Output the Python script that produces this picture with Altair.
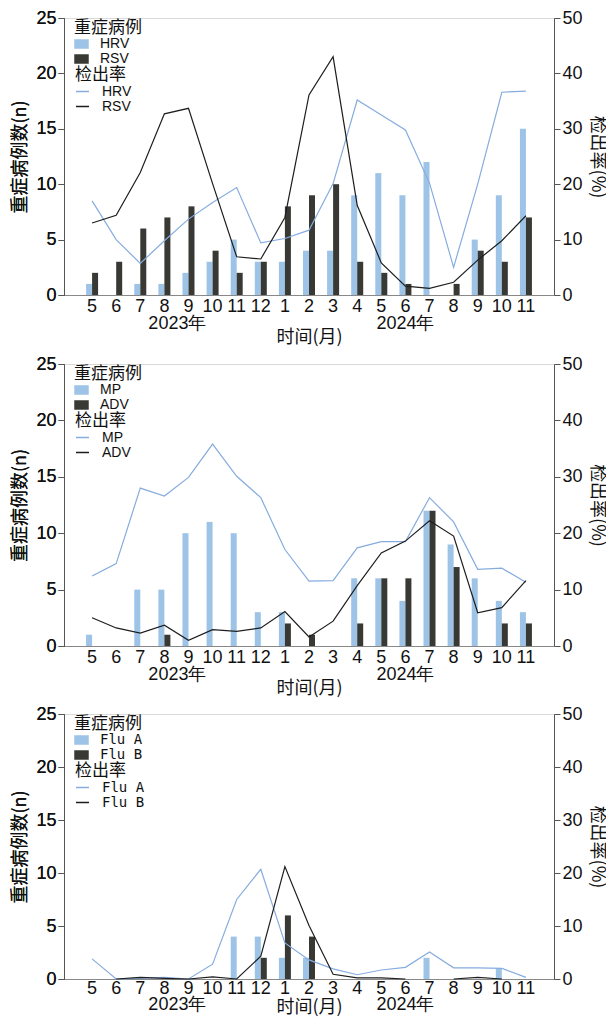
import altair as alt
import pandas as pd

months = ["2023-5", "2023-6", "2023-7", "2023-8", "2023-9", "2023-10", "2023-11", "2023-12",
          "2024-1", "2024-2", "2024-3", "2024-4", "2024-5", "2024-6", "2024-7", "2024-8",
          "2024-9", "2024-10", "2024-11"]

# Panel 1: HRV / RSV
hrv_cases = [1, 0, 1, 1, 2, 3, 5, 3, 3, 4, 4, 9, 11, 9, 12, 0, 5, 9, 15]
rsv_cases = [2, 3, 6, 7, 8, 4, 2, 3, 8, 9, 10, 3, 2, 1, 0, 1, 4, 3, 7]
hrv_rate = [17.0, 10.0, 5.7, 9.8, 13.7, 16.7, 19.4, 9.4, 10.2, 11.7, 20.1, 35.2, 32.5, 29.8, 20.2, 5.0, 20.0, 36.6, 36.8]
rsv_rate = [13.0, 14.4, 22.1, 32.7, 33.7, 20.1, 6.9, 6.5, 14.0, 36.1, 43.0, 16.2, 5.8, 1.6, 1.2, 2.3, 6.3, 9.8, 14.3]

# Panel 2: MP / ADV
mp_cases = [1, 0, 5, 5, 10, 11, 10, 3, 3, 0, 0, 6, 6, 4, 12, 9, 6, 4, 3]
adv_cases = [0, 0, 0, 1, 0, 0, 0, 0, 2, 1, 0, 2, 6, 6, 12, 7, 0, 2, 2]
mp_rate = [12.4, 14.6, 28.0, 26.6, 29.9, 35.8, 30.1, 26.3, 17.1, 11.5, 11.6, 17.4, 18.5, 18.5, 26.3, 22.0, 13.6, 13.8, 11.3]
adv_rate = [5.0, 3.2, 2.3, 3.7, 1.0, 2.9, 2.6, 3.2, 6.1, 1.6, 4.4, 10.7, 16.5, 18.6, 22.2, 19.5, 5.9, 6.8, 11.6]

# Panel 3: Flu A / Flu B
flua_cases = [0, 0, 0, 0, 0, 0, 4, 4, 2, 2, 0, 0, 0, 0, 2, 0, 0, 1, 0]
flub_cases = [0, 0, 0, 0, 0, 0, 0, 2, 6, 4, 0, 0, 0, 0, 0, 0, 0, 0, 0]
flua_rate = [3.8, 0.0, 0.1, 0.3, 0.0, 2.8, 15.0, 20.7, 6.8, 3.6, 1.9, 0.8, 1.7, 2.2, 5.1, 2.1, 2.1, 2.0, 0.3]
flub_rate = [None, 0.0, 0.3, 0.1, 0.0, 0.4, 0.0, 4.3, 21.2, 10.1, 0.9, 0.2, 0.2, 0.0, None, 0.0, 0.3, 0.0, None]

year_labels = ["2023年", "2024年"]
year_anchor = ["2023-8", "2024-6"]

BLUE_BAR = "#9DC3E6"
DARK_BAR = "#383834"
BLUE_LINE = "#86ACDE"
BLACK_LINE = "#1E1E1E"
NUM_FONT = "Liberation Sans"
CJK_FONT = "Noto Sans CJK SC"
W = 490
RECT = "M-1,-0.67H1V0.67H-1Z"


def panel(names, ca, cb, ra, rb, h, label_font, label_pad, title_pad, year_off):
    n = len(months)
    line_names = [s + " " for s in names]
    bars_a = pd.DataFrame({"month": months, "病例": [names[0]] * n, "cases": ca})
    bars_b = pd.DataFrame({"month": months, "病例": [names[1]] * n, "cases": cb})
    lines = pd.DataFrame({"month": months * 2, "检出": [line_names[0]] * n + [line_names[1]] * n,
                          "rate": ra + rb, "idx": list(range(n)) * 2})
    x = alt.X("month:N", sort=months,
              scale=alt.Scale(domain=months, paddingInner=0.49, paddingOuter=0.91),
              axis=alt.Axis(title="时间(月)", labelExpr="split(datum.value, '-')[1]",
                            labelAngle=0, ticks=False, labelPadding=label_pad,
                            titlePadding=title_pad, labelOverlap=False,
                            domainColor="#888888"))
    y_left = alt.Y("cases:Q", scale=alt.Scale(domain=[0, 25], nice=False),
                   axis=alt.Axis(title="重症病例数(n)", orient="left",
                                 values=[0, 5, 10, 15, 20, 25],
                                 tickSize=6, labelPadding=2, titlePadding=6))
    fill = alt.Fill("病例:N", sort=names,
                    scale=alt.Scale(domain=names, range=[BLUE_BAR, DARK_BAR]),
                    legend=alt.Legend(title="重症病例", orient="none", legendX=10, legendY=1.5,
                                      symbolType=RECT, symbolSize=210, labelOffset=11,
                                      clipHeight=14, rowPadding=1,
                                      symbolStrokeWidth=0, labelFont=label_font))
    bar_a = alt.Chart(bars_a).mark_bar(size=6, xOffset=-3).encode(x=x, y=y_left, fill=fill)
    bar_b = alt.Chart(bars_b).mark_bar(size=6, xOffset=3).encode(x=x, y=y_left, fill=fill)
    line = alt.Chart(lines).mark_line(strokeWidth=1.2).encode(
        x=x,
        y=alt.Y("rate:Q", scale=alt.Scale(domain=[0, 50], nice=False),
                axis=alt.Axis(title="检出率(%)", orient="right", values=[0, 10, 20, 30, 40, 50],
                              tickSize=6, labelPadding=2, titlePadding=5, titleAngle=90)),
        stroke=alt.Stroke("检出:N", sort=line_names,
                          scale=alt.Scale(domain=line_names, range=[BLUE_LINE, BLACK_LINE]),
                          legend=alt.Legend(title="检出率", orient="none", legendX=11, legendY=49,
                                            symbolType="stroke", symbolSize=169, labelOffset=12,
                                            clipHeight=14, rowPadding=1,
                                            symbolStrokeWidth=1.5, labelFont=label_font)),
        order=alt.Order("idx:Q"),
    )
    y1 = pd.DataFrame({"month": [year_anchor[0]], "label": [year_labels[0]]})
    y2 = pd.DataFrame({"month": [year_anchor[1]], "label": [year_labels[1]]})
    t1 = alt.Chart(y1).mark_text(fontSize=18, font=NUM_FONT, baseline="middle", dx=13,
                                 color="#111111").encode(
        x=x, y=alt.value(h + year_off), text="label:N")
    t2 = alt.Chart(y2).mark_text(fontSize=18, font=NUM_FONT, baseline="middle",
                                 color="#111111").encode(
        x=x, y=alt.value(h + year_off), text="label:N")
    return alt.layer(bar_a, bar_b, line, t1, t2).resolve_scale(y="independent").properties(
        width=W, height=h)


p1 = panel(["HRV", "RSV"], hrv_cases, rsv_cases, hrv_rate, rsv_rate, 277, NUM_FONT, 2.5, 13, 29)
p2 = panel(["MP", "ADV"], mp_cases, adv_cases, mp_rate, adv_rate, 282, NUM_FONT, 2.5, 13, 29)
p3 = panel(["Flu A", "Flu B"], flua_cases, flub_cases, flua_rate, flub_rate, 265,
           "DejaVu Sans Mono", 0, 1, 26)

top = alt.vconcat(p1, p2, spacing=7).resolve_scale(
    fill="independent", stroke="independent", x="independent"
).resolve_legend(fill="independent", stroke="independent")
chart = alt.vconcat(top, p3, spacing=6).resolve_scale(
    fill="independent", stroke="independent", x="independent"
).resolve_legend(fill="independent", stroke="independent").configure_view(
    stroke="#D9D9D9", strokeWidth=1
).configure_axis(
    labelFont=NUM_FONT, labelFontSize=18, labelColor="#111111",
    titleFont=CJK_FONT, titleFontSize=18, titleFontWeight="normal", titleColor="#111111",
    domainColor="#555555", tickColor="#555555", grid=False
).configure_legend(
    titleFont=CJK_FONT, titleFontSize=17, titleFontWeight="normal", titleColor="#111111",
    labelFontSize=14, labelColor="#111111", titlePadding=0.5, padding=0
).properties(padding={"left": 3, "top": 0, "right": 0, "bottom": 0})

chart.save("out.html", embed_options={"renderer": "svg", "actions": False})
